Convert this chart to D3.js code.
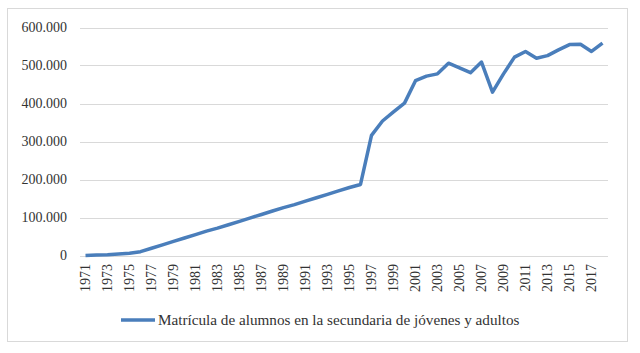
<!DOCTYPE html>
<html>
<head>
<meta charset="utf-8">
<script src="https://cdn.jsdelivr.net/npm/d3@7"></script>
<style>
  body { margin: 0; background: #fff; }
</style>
</head>
<body>
<div id="chart"></div>
<script>
// Chart size
const width = 640, height = 353;
const margin = { top: 27, right: 32, bottom: 98, left: 80 };

// Data: years and enrolment
const years = d3.range(1971, 2019);
const enrolment = [
  0, 1000, 2000, 4000, 6000, 10000, 19000, 28000, 37000, 46000,
  55000, 64000, 72000, 81000, 90000, 99000, 108000, 117000, 126000, 134000,
  143000, 152000, 161000, 170000, 179000, 187000, 316000, 354000, 378000, 401000,
  460000, 472000, 478000, 506000, 494000, 481000, 509000, 430000, 478000, 522000,
  537000, 519000, 526000, 541000, 555000, 556000, 537000, 559000
];
const yTicks = [0, 100000, 200000, 300000, 400000, 500000, 600000];
const seriesName = "Matrícula de alumnos en la secundaria de jóvenes y adultos";

const data = years.map((yr, i) => ({ year: yr, value: enrolment[i] }));

const svg = d3.select("#chart")
  .append("svg")
  .attr("width", width)
  .attr("height", height);

// Outer frame
svg.append("rect")
  .attr("x", 7.5).attr("y", 8.5)
  .attr("width", 620).attr("height", 333)
  .attr("fill", "#fff")
  .attr("stroke", "#d9d9d9");

const innerW = width - margin.left - margin.right;
const innerH = height - margin.top - margin.bottom;

const g = svg.append("g")
  .attr("transform", `translate(${margin.left},${margin.top})`);

// Scales
const x = d3.scaleBand()
  .domain(years)
  .range([0, innerW]);

const y = d3.scaleLinear()
  .domain([0, 600000])
  .range([innerH + 0.5, 0.5]);

// Gridlines
g.append("g")
  .selectAll("line")
  .data(yTicks.slice(1))
  .join("line")
  .attr("x1", 0).attr("x2", innerW)
  .attr("y1", d => Math.round(y(d)) + 0.5)
  .attr("y2", d => Math.round(y(d)) + 0.5)
  .attr("stroke", "#d9d9d9");

// Y axis labels
const fmt = d => d === 0 ? "0" : d3.format(",")(d).replace(/,/g, ".");
g.append("g")
  .selectAll("text")
  .data(yTicks)
  .join("text")
  .attr("x", -13)
  .attr("y", d => y(d))
  .attr("dy", "0.35em")
  .attr("text-anchor", "end")
  .attr("font-family", "Liberation Serif")
  .attr("font-size", 14)
  .attr("fill", "#333")
  .text(fmt);

// X axis line
g.append("line")
  .attr("x1", 0).attr("x2", innerW)
  .attr("y1", Math.round(y(0)) + 0.5).attr("y2", Math.round(y(0)) + 0.5)
  .attr("stroke", "#d9d9d9");

// X tick labels, every second year, rotated
g.append("g")
  .selectAll("text")
  .data(years.filter((d, i) => i % 2 === 0))
  .join("text")
  .attr("transform", d => `translate(${x(d) + x.bandwidth() / 2},${innerH + 9}) rotate(-90)`)
  .attr("text-anchor", "end")
  .attr("dy", "0.35em")
  .attr("font-family", "Liberation Serif")
  .attr("font-size", 14)
  .attr("fill", "#333")
  .text(d => d);

// Line
const line = d3.line()
  .x(d => x(d.year) + x.bandwidth() / 2)
  .y(d => y(d.value));

g.append("path")
  .datum(data)
  .attr("fill", "none")
  .attr("stroke", "#4a7ebb")
  .attr("stroke-width", 3.5)
  .attr("stroke-linejoin", "round")
  .attr("d", line);

// Legend
const legend = svg.append("g")
  .attr("transform", "translate(121,320)");

legend.append("line")
  .attr("x1", 0).attr("x2", 34)
  .attr("stroke", "#4a7ebb")
  .attr("stroke-width", 3.5);

legend.append("text")
  .attr("x", 37)
  .attr("dy", "0.35em")
  .attr("font-family", "Liberation Serif")
  .attr("font-size", 15.2)
  .attr("fill", "#333")
  .text(seriesName);
</script>
</body>
</html>
